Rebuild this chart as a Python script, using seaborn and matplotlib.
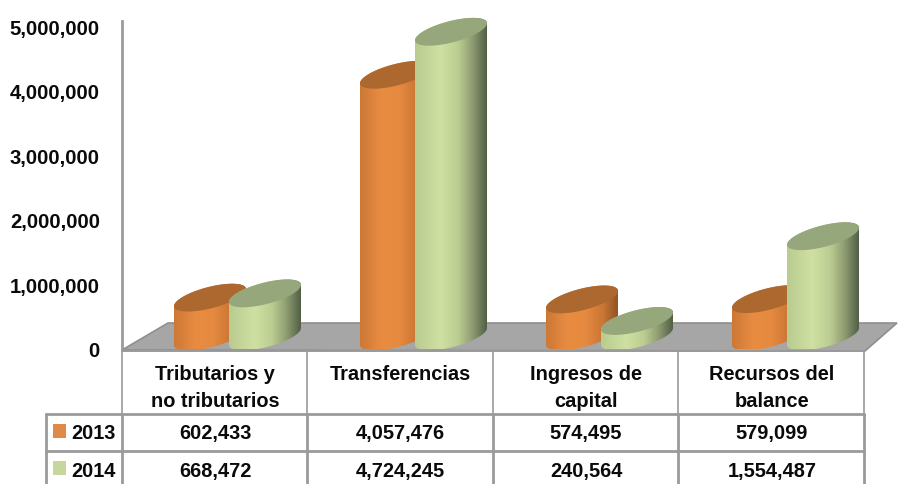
import numpy as np
import pandas as pd
import matplotlib
matplotlib.use('Agg')
import matplotlib.pyplot as plt
import seaborn as sns
from matplotlib.colors import LinearSegmentedColormap
from matplotlib.lines import Line2D
from matplotlib.patches import Polygon, Rectangle
from matplotlib.transforms import Affine2D

categories = ['Tributarios y\nno tributarios', 'Transferencias', 'Ingresos de\ncapital', 'Recursos del\nbalance']
years = ['2013', '2014']
values_2013 = [602433, 4057476, 574495, 579099]
values_2014 = [668472, 4724245, 240564, 1554487]
yticks = [0, 1000000, 2000000, 3000000, 4000000, 5000000]

W, H = 898, 485
GRID = '#9a9a9a'
TEXT = '#0a0a0a'

sns.set_theme(style='white')
plt.rcParams['font.family'] = ['Liberation Sans', 'DejaVu Sans']
plt.rcParams['font.weight'] = 'bold'

df = pd.DataFrame({
    'cat': categories * 2,
    'year': [years[0]] * 4 + [years[1]] * 4,
    'value': values_2013 + values_2014,
})

fig = plt.figure(figsize=(W / 100, H / 100), dpi=100)
# axes run from the top of the image down to the zero line
ax = fig.add_axes([122 / W, 1 - 350 / H, (865 - 122) / W, 350 / H])
ax.patch.set_alpha(0)

sns.barplot(data=df, x='cat', y='value', hue='year', order=categories, hue_order=years,
            width=110 / 186, legend=False, ax=ax)

px_per_unit = 64.5 / 1e6
xlim = (-(229 - 122) / 186, (865 - 229) / 186)
ylim = (0, 350 / px_per_unit)

# pixel coordinates for the table and the floor
px = Affine2D().scale(1 / W, -1 / H).translate(0, 1) + fig.transFigure

ax.add_patch(Polygon([(122, 351), (168, 324), (897, 324), (865, 352)], closed=True, facecolor='#a6a6a6',
                     edgecolor='#8f8f8f', lw=1.2, transform=px, clip_on=False, zorder=0.5))

cmaps = [
    LinearSegmentedColormap.from_list('o', [(0, '#cc7836'), (.3, '#e98c42'), (.55, '#e58a40'),
                                            (.8, '#c97535'), (1, '#8f5425')]),
    LinearSegmentedColormap.from_list('g', [(0, '#b9cb8f'), (.35, '#cfe0a2'), (.6, '#bccd92'),
                                            (.8, '#8f9c72'), (1, '#515f45')]),
]
top_colors = ['#ad6830', '#95a77b']

cyl_w = 72 / 186
tilt = 17 / px_per_unit
minor = 11 / px_per_unit
base = 12.5 / px_per_unit
t_top = np.linspace(np.pi, 0, 60)
t_bot = np.linspace(0, -np.pi, 60)
t_all = np.linspace(0, 2 * np.pi, 120)

for k, cont in enumerate(ax.containers):
    for bar in cont:
        bar.set_visible(False)
        x0 = bar.get_x()
        v = bar.get_height()
        cx = x0 + cyl_w / 2
        # the skewed ellipse has vertical tangents at both ends
        top = np.c_[cx + cyl_w / 2 * np.cos(t_top), base + v + tilt / 2 * np.cos(t_top) + minor * np.sin(t_top)]
        bot = np.c_[cx + cyl_w / 2 * np.cos(t_bot), base + tilt / 2 * np.cos(t_bot) + minor * np.sin(t_bot)]
        body = Polygon(np.r_[top, bot], closed=True, transform=ax.transData)
        im = ax.imshow(np.linspace(0, 1, 256).reshape(1, -1), cmap=cmaps[k], aspect='auto',
                       extent=(x0, x0 + cyl_w, -minor, base + v + tilt + minor), zorder=2 + k)
        im.set_clip_path(body)
        face = np.c_[cx + cyl_w / 2 * np.cos(t_all), base + v + tilt / 2 * np.cos(t_all) + minor * np.sin(t_all)]
        ax.add_patch(Polygon(face, closed=True, facecolor=top_colors[k], edgecolor='none', zorder=2.5 + k, clip_on=False))

ax.set_xlim(xlim)
ax.set_ylim(ylim)
ax.set_yticks(yticks)
ax.set_yticklabels([f'{v:,}' for v in yticks], fontsize=14.6, fontweight='bold', color=TEXT)
ax.tick_params(axis='y', length=0, pad=16)
ax.set_xticks([])
ax.set(xlabel=None, ylabel=None)
sns.despine(ax=ax, bottom=True)
ax.spines['left'].set_color(GRID)
ax.spines['left'].set_linewidth(2)
ax.spines['left'].set_bounds(0, 5085000)
ax.spines['left'].set_zorder(6)


def line(x0, y0, x1, y1, lw=2.0):
    fig.add_artist(Line2D([x0, x1], [y0, y1], color=GRID, lw=lw, transform=px))


# table grid
col_x = [122, 307, 493, 678, 864]
line(122, 352, 864, 352, 1.4)
for x in col_x:
    line(x, 352, x, 415, 1.2)
    line(x, 415, x, 485, 2.0)
line(46, 415, 46, 485, 2.0)
line(46, 415, 864, 415, 2.0)
line(46, 452, 864, 452, 2.0)

col_c = [215, 400, 586, 772]
for c, label in zip(col_c, categories):
    for j, part in enumerate(label.split('\n')):
        fig.text(c, 375 + 27 * j, part, transform=px, ha='center', va='center', fontsize=14.4,
                 fontweight='bold', color=TEXT)

rows = [(434, values_2013, years[0], 0, 425), (472, values_2014, years[1], 1, 462)]
for y, vals, year, k, sq in rows:
    fig.add_artist(Rectangle((53, sq), 13, 14, facecolor=['#e08a45', '#c5d79c'][k], edgecolor='none', transform=px))
    fig.text(93, y, year, transform=px, ha='center', va='center', fontsize=14.4, fontweight='bold', color=TEXT)
    for c, v in zip(col_c, vals):
        fig.text(c, y, f'{v:,}', transform=px, ha='center', va='center', fontsize=14.4,
                 fontweight='bold', color=TEXT)

fig.savefig('out.png', dpi=100)
